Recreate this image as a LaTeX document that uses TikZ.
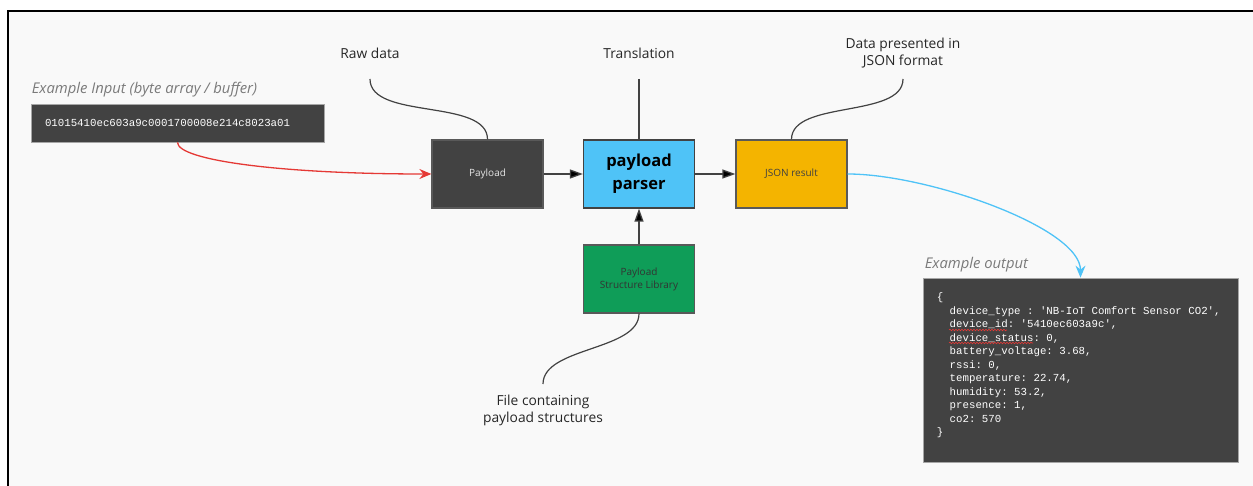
\documentclass[tikz,border=0pt]{standalone}
\usepackage{fontspec}
\setmainfont{Open Sans}
\setmonofont{Liberation Mono}
\usetikzlibrary{arrows.meta,positioning,decorations.pathmorphing}
\definecolor{canvas}{HTML}{F9F9F9}
\definecolor{ink}{HTML}{424242}
\definecolor{parserblue}{HTML}{4FC3F7}
\definecolor{jsonamber}{HTML}{F4B400}
\definecolor{libgreen}{HTML}{0F9D58}
\definecolor{inred}{HTML}{E53935}
\definecolor{notegray}{HTML}{7A7A7A}
\tikzset{
	stage/.style={draw=black!65, line width=1.3pt, minimum width=111pt, minimum height=68pt, inner sep=0pt, align=center, font=\fontsize{10}{13}\selectfont},
	note/.style={inner sep=0pt, align=center, text=black!85, font=\fontsize{13.8}{17}\selectfont},
	caption/.style={inner sep=0pt, anchor=south west, text=notegray, font=\fontsize{14.8}{17}\selectfont\itshape},
	codebox/.style={fill=ink, draw=gray!70, line width=0.8pt, text=white, font=\ttfamily\fontsize{10.75}{13.5}\selectfont, align=left},
	link/.style={draw=ink, line width=1.3pt, -{Triangle[length=13pt,width=9pt]}},
	lead/.style={draw=ink, line width=1.2pt},
	flow/.style={line width=1.3pt, -{Stealth[length=12pt,width=10pt,inset=4pt]}},
	typo/.style={draw=inred, line width=0.6pt, decorate, decoration={snake, amplitude=0.8pt, segment length=3pt}}
}
\begin{document}
\begin{tikzpicture}[x=1pt,y=-1pt]
	\useasboundingbox (0,0) rectangle (1253,486);
	\fill[white] (0,0) rectangle (1253,486);
	\fill[canvas] (8,11) rectangle (1253,486);
	\draw[line width=2.5pt] (8,486) -- (8,11) -- (1253,11);

	\node[codebox, text width=265pt, inner xsep=14pt, minimum height=38pt] (input) at (177.5,123) {01015410ec603a9c0001700008e214c8023a01};
	\node[caption] (inlabel) at ([xshift=1pt,yshift=6pt]input.north west) {Example Input (byte array / buffer)};

	\node[stage, fill=ink, text=white!90!black] (payload) at (487.5,174) {Payload};
	\node[stage, fill=parserblue, draw=ink, font=\bfseries\fontsize{16.5}{23}\selectfont] (parser) at (639,174) {payload\\parser};
	\node[stage, fill=jsonamber, text=black!75] (json) at (791.5,174) {JSON result};
	\node[stage, fill=libgreen, text=black!80] (library) at (639,279) {Payload\\Structure Library};

	\node[note] (raw) at (370,53) {Raw data};
	\node[note] (trans) at (639,53) {Translation};
	\node[note] (present) at (903,53.5) {Data presented in\\JSON format};
	\node[note] (file) at (543,410) {File containing\\payload structures};
	\coordinate (rawtip) at (370,79);
	\coordinate (transtip) at (639,79);
	\coordinate (presenttip) at (903,79);
	\coordinate (filetip) at (543,384);

	\draw[lead] (rawtip) to[out=-90,in=90,looseness=0.8] (payload.north);
	\draw[lead] (transtip) -- (parser.north);
	\draw[lead] (presenttip) to[out=-90,in=90,looseness=0.8] (json.north);
	\draw[lead] (library.south) to[out=-90,in=90,looseness=0.8] (filetip);
	\path[link] (payload) edge (parser) (parser) edge (json) (library) edge (parser);

	\node[codebox, minimum width=315pt, minimum height=184pt] (output) at (1080.5,370) {};
	\node[caption] (outlabel) at ([xshift=2pt,yshift=5pt]output.north west) {Example output};
	\node[anchor=north west, inner sep=0pt, text=white, align=left, font=\ttfamily\fontsize{10.75}{13.5}\selectfont] (outcode) at ([xshift=14pt,yshift=-15pt]output.north west) {\{\\
		\phantom{xx}device\_type : 'NB-IoT Comfort Sensor CO2',\\
		\phantom{xx}device\_id: '5410ec603a9c',\\
		\phantom{xx}device\_status: 0,\\
		\phantom{xx}battery\_voltage: 3.68,\\
		\phantom{xx}rssi: 0,\\
		\phantom{xx}temperature: 22.74,\\
		\phantom{xx}humidity: 53.2,\\
		\phantom{xx}presence: 1,\\
		\phantom{xx}co2: 570\\
		\}};
	\draw[typo] (949,330) -- (1007,330);
	\draw[typo] (949,343) -- (1033,343);

	\draw[flow, inred] (input.south) .. controls +(0,18) and +(-150,0) .. (payload.west);
	\draw[flow, parserblue] (json.east) .. controls +(80,0) and +(0,-50) .. (output.north);
\end{tikzpicture}
\end{document}
